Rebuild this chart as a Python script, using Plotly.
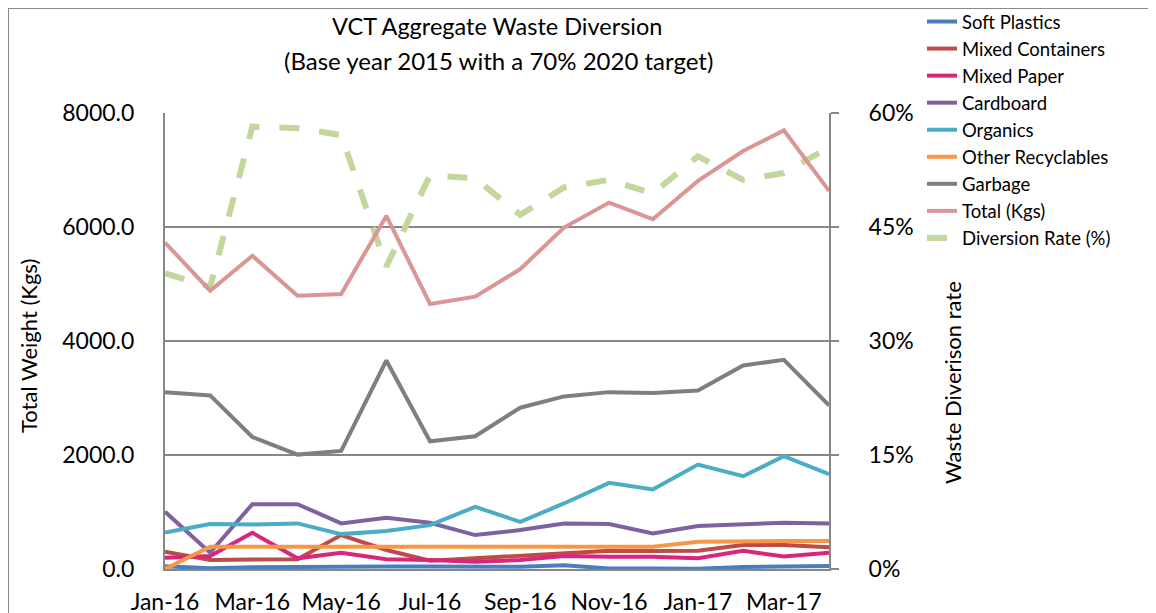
import plotly.graph_objects as go

months = ["2016-01-01", "2016-02-01", "2016-03-01", "2016-04-01", "2016-05-01", "2016-06-01",
          "2016-07-01", "2016-08-01", "2016-09-01", "2016-10-01", "2016-11-01", "2016-12-01",
          "2017-01-01", "2017-02-01", "2017-03-01", "2017-04-01"]

soft_plastics = [47, 12, 30, 40, 45, 45, 45, 40, 40, 66, 9, 9, 5, 35, 35, 52]
mixed_containers = [303, 158, 165, 170, 595, 333, 145, 187, 245, 286, 320, 315, 320, 420, 420, 380]
mixed_paper = [198, 228, 636, 187, 286, 170, 158, 128, 158, 228, 216, 216, 187, 320, 220, 286]
cardboard = [1003, 286, 1138, 1138, 800, 898, 811, 595, 683, 800, 788, 625, 753, 782, 811, 800]
organics = [642, 788, 782, 800, 612, 665, 770, 1090, 828, 1150, 1511, 1394, 1832, 1628, 1978, 1663]
other_recyclables = [0, 390, 390, 390, 390, 390, 390, 390, 390, 390, 390, 390, 480, 490, 490, 490]
garbage = [3103, 3045, 2316, 2007, 2071, 3658, 2240, 2328, 2830, 3028, 3103, 3086, 3133, 3570, 3670, 2870]
total_kgs = [5728, 4883, 5495, 4795, 4825, 6195, 4650, 4778, 5262, 5990, 6428, 6137, 6808, 7333, 7695, 6633]
diversion_rate = [0.389, 0.371, 0.582, 0.580, 0.571, 0.398, 0.518, 0.514, 0.466, 0.502, 0.512,
                  0.494, 0.543, 0.512, 0.521, 0.555]

tick_vals = ["2016-01-01", "2016-03-01", "2016-05-01", "2016-07-01", "2016-09-01",
             "2016-11-01", "2017-01-01", "2017-03-01"]
tick_text = ["Jan-16", "Mar-16", "May-16", "Jul-16", "Sep-16", "Nov-16", "Jan-17", "Mar-17"]
left_ticks = [0, 2000, 4000, 6000, 8000]
right_ticks = [0, 0.15, 0.30, 0.45, 0.60]

weight_series = [
    ("Soft Plastics", soft_plastics, "#4a7ebb"),
    ("Mixed Containers", mixed_containers, "#be4b48"),
    ("Mixed Paper", mixed_paper, "#da257c"),
    ("Cardboard", cardboard, "#7f60a0"),
    ("Organics", organics, "#4bacc6"),
    ("Other Recyclables", other_recyclables, "#f79646"),
    ("Garbage", garbage, "#7f7f7f"),
    ("Total (Kgs)", total_kgs, "#d99694"),
]

FONT = "Lato, Carlito, Calibri, sans-serif"
GRID = "#878787"

# page has an 8px body margin; figure is sized to fill the rest of the window
W, H = 1148, 605
L, R, T, B = 157, 327, 105, 44
PW, PH = W - L - R, H - T - B


def px(page_x):
    return (page_x - 8 - L) / PW


def py(page_y):
    return (H - B - (page_y - 8)) / PH


fig = go.Figure()
for name, vals, color in weight_series:
    fig.add_trace(go.Scatter(x=months, y=vals, name=name, mode="lines", yaxis="y2",
                             line=dict(color=color, width=4)))
fig.add_trace(go.Scatter(x=months, y=diversion_rate, name="Diversion Rate (%)", mode="lines",
                         yaxis="y", line=dict(color="#c3d69b", width=6, dash="20px,20px")))

fig.update_layout(
    width=W, height=H,
    margin=dict(l=L, r=R, t=T, b=B, autoexpand=False),
    paper_bgcolor="white", plot_bgcolor="white",
    font=dict(family=FONT, color="black", size=18),
    showlegend=True,
    legend=dict(xref="container", yref="paper", x=(922 - 8) / W, y=py(3),
                xanchor="left", yanchor="top",
                font=dict(size=18.5, family=FONT), bgcolor="rgba(0,0,0,0)",
                tracegroupgap=0),
    xaxis=dict(type="date", range=["2016-01-01", "2017-04-01"],
               tickvals=tick_vals, ticktext=tick_text, automargin=False,
               showgrid=False, showline=True, linecolor=GRID, linewidth=2,
               ticks="", ticklabelstandoff=11, tickfont=dict(size=23, family=FONT)),
    yaxis=dict(range=[0, 0.6], tickvals=right_ticks, tickformat=".0%", side="right",
               automargin=False,
               showgrid=True, gridcolor=GRID, gridwidth=2, zeroline=False,
               showline=True, linecolor=GRID, linewidth=2,
               ticks="outside", ticklen=8, tickcolor=GRID, tickwidth=2,
               ticklabelstandoff=25, tickfont=dict(size=23, family=FONT)),
    yaxis2=dict(range=[0, 8000], tickvals=left_ticks, tickformat=".1f", side="left",
                overlaying="y", showgrid=False, zeroline=False, automargin=False,
                showline=True, linecolor=GRID, linewidth=2, ticks="",
                ticklabelstandoff=24, tickfont=dict(size=23, family=FONT)),
    annotations=[
        dict(text="VCT Aggregate Waste Diversion", xref="paper", yref="paper",
             x=px(497), y=py(26), xanchor="center", yanchor="middle",
             showarrow=False, font=dict(size=23.5, family=FONT)),
        dict(text="(Base year 2015 with a 70% 2020 target)", xref="paper", yref="paper",
             x=px(498), y=py(60), xanchor="center", yanchor="middle",
             showarrow=False, font=dict(size=24, family=FONT)),
        dict(text="Total Weight (Kgs)", xref="paper", yref="paper",
             x=px(28), y=py(346), xanchor="center", yanchor="middle",
             textangle=-90, showarrow=False, font=dict(size=22, family=FONT)),
        dict(text="Waste Diverison rate", xref="paper", yref="paper",
             x=px(952), y=py(383), xanchor="center", yanchor="middle",
             textangle=-90, showarrow=False, font=dict(size=22, family=FONT)),
    ],
    shapes=[
        dict(type="rect", xref="paper", yref="paper",
             x0=px(8), y0=-1, x1=3, y1=py(8),
             line=dict(color="#8a8a8a", width=2), fillcolor="rgba(0,0,0,0)", layer="below"),
    ],
)

fig.write_html("out.html")
